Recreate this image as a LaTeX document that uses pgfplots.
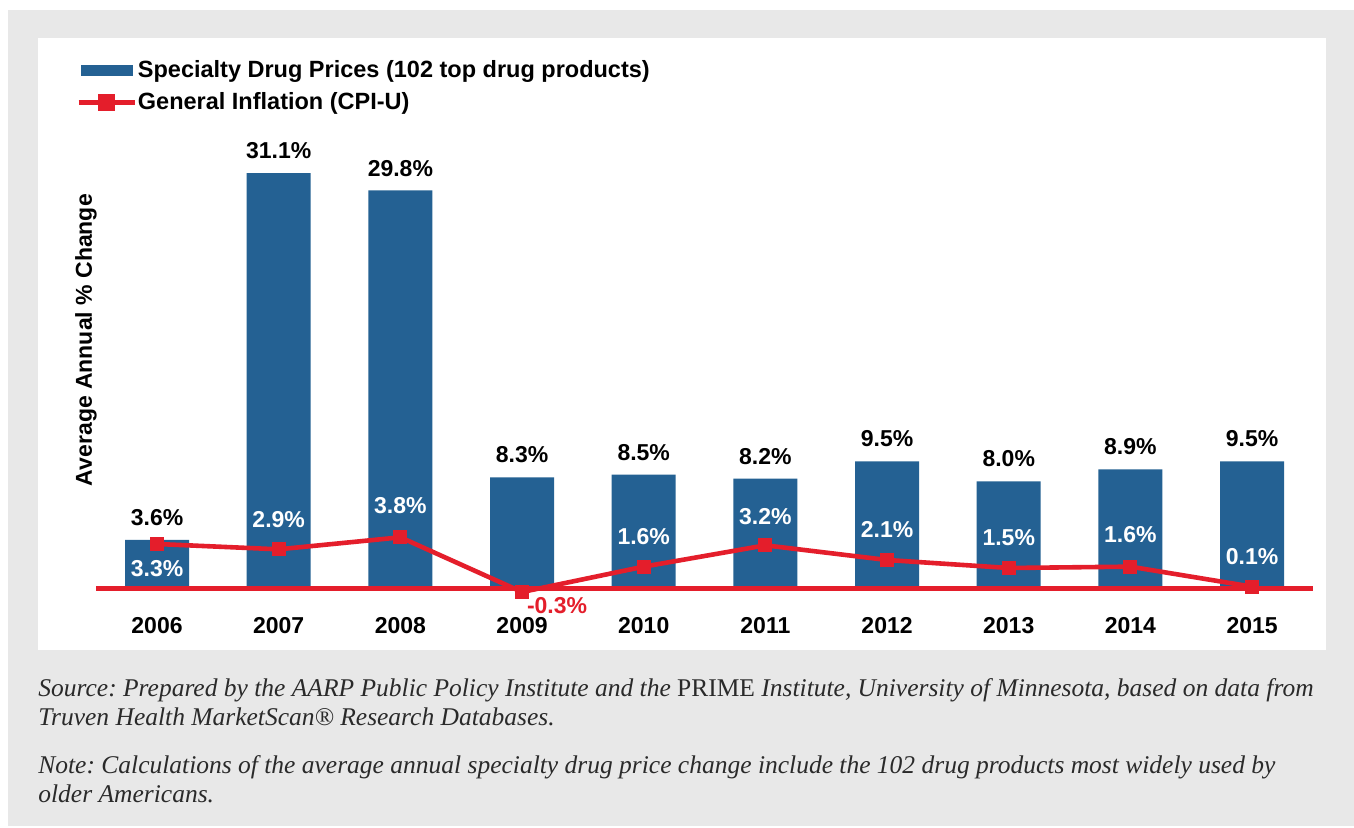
\documentclass[border=0pt]{standalone}
\usepackage{pgfplots}
\usepackage{pgfplotstable}
\pgfplotsset{compat=1.18}
\usepackage{fontspec}
\setmainfont{Liberation Sans}
\newfontfamily\srcfont{Liberation Serif}

\definecolor{barblue}{HTML}{246193}
\definecolor{cpired}{HTML}{E41E2B}
\definecolor{bggray}{HTML}{E8E8E8}
\definecolor{srcgray}{HTML}{2A2A2A}

\newcommand{\chartfont}{\bfseries\fontsize{11.5}{13}\selectfont}

% x = position, spec = specialty drug prices, cpi = general inflation
\pgfplotstableread{
x  year spec cpi
0  2006 3.6  3.3
1  2007 31.1 2.9
2  2008 29.8 3.8
3  2009 8.3  -0.3
4  2010 8.5  1.6
5  2011 8.2  3.2
6  2012 9.5  2.1
7  2013 8.0  1.5
8  2014 8.9  1.6
9  2015 9.5  0.1
}\drugdata

\begin{document}
\frenchspacing
\begin{tikzpicture}
% background panels
\fill[bggray] (4pt,0.5pt) rectangle (677pt,408.5pt);
\fill[white] (19pt,88.5pt) rectangle (663pt,394.5pt);

\begin{axis}[
    at={(48.1pt,112.83pt)}, anchor=south west,
    scale only axis,
    width=608.35pt, height=226.78pt,
    xmin=-0.5, xmax=9.5,
    ymin=-1, ymax=33,
    clip=false,
    /pgf/number format/assume math mode=true,
    axis line style={draw=none},
    tick style={draw=none},
    major tick length=0pt,
    ytick=\empty,
    xtick={0,...,9},
    xticklabels={2006,2007,2008,2009,2010,2011,2012,2013,2014,2015},
    xticklabel style={font=\chartfont, anchor=north, yshift=-4.5pt},
    ylabel={Average Annual \% Change},
    ylabel style={font=\chartfont, at={(axis description cs:-0.0084,0.576)}, anchor=center},
    legend style={at={(axis description cs:-0.0216,1.2045)}, anchor=north west,
        draw=none, fill=none, font=\bfseries\fontsize{11.75}{13}\selectfont, row sep=5pt,
        nodes={inner sep=0.5pt}},
    legend cell align=left,
]

\addplot[ybar, bar width=32pt, fill=barblue, draw=none,
    nodes near coords={\pgfmathprintnumber[fixed,fixed zerofill,precision=1,assume math mode=true]{\pgfplotspointmeta}\%},
    every node near coord/.append style={font=\chartfont, text=black, anchor=south, yshift=3.5pt},
    legend image code/.code={\fill[barblue] (0pt,-2.75pt) rectangle (26pt,2.75pt);}
] table[x=x, y=spec] {\drugdata};
\addlegendentry{Specialty Drug Prices (102 top drug products)}

% zero line
\draw[cpired, line width=2.5pt] (axis cs:-0.5,0) -- (axis cs:9.5,0);

\addplot[cpired, line width=2.3pt, mark=square*, mark size=3.25pt,
    mark options={solid, fill=cpired, draw=cpired, line width=0pt},
    legend image code/.code={\draw[cpired, line width=2.3pt] (-1pt,0pt) -- (27pt,0pt);
        \fill[cpired] (9.75pt,-3.25pt) rectangle (16.25pt,3.25pt);}
] table[x=x, y=cpi] {\drugdata};
\addlegendentry{General Inflation (CPI-U)}

% inflation labels
\begin{scope}[every node/.style={font=\chartfont, text=white}]
\node at (axis cs:0,3.3) [yshift=-12.5pt] {3.3\%};
\node at (axis cs:1,2.9) [yshift=15pt] {2.9\%};
\node at (axis cs:2,3.8) [yshift=16pt] {3.8\%};
\node[text=cpired] at (axis cs:3,-0.3) [xshift=17.5pt, yshift=-7pt] {-0.3\%};
\node at (axis cs:4,1.6) [yshift=15pt] {1.6\%};
\node at (axis cs:5,3.2) [yshift=14.5pt] {3.2\%};
\node at (axis cs:6,2.1) [yshift=15pt] {2.1\%};
\node at (axis cs:7,1.5) [yshift=15pt] {1.5\%};
\node at (axis cs:8,1.6) [yshift=16pt] {1.6\%};
\node at (axis cs:9,0.1) [yshift=15pt] {0.1\%};
\end{scope}
\end{axis}

% source notes
\begin{scope}[every node/.style={anchor=base west, inner sep=0pt, text=srcgray,
    font=\srcfont\itshape\fontsize{12.75}{14.5}\selectfont}]
\node at (19pt,65.25pt) {Source: Prepared by the AARP Public Policy Institute and the {\upshape PRIME} Institute, University of Minnesota, based on data from};
\node at (19pt,50.75pt) {Truven Health MarketScan® Research Databases.};
\node at (19pt,26.75pt) {Note: Calculations of the average annual specialty drug price change include the 102 drug products most widely used by};
\node at (19pt,12.25pt) {older Americans.};
\end{scope}

\pgfresetboundingbox
\path[use as bounding box] (0pt,0pt) rectangle (677pt,413.5pt);
\end{tikzpicture}
\end{document}
